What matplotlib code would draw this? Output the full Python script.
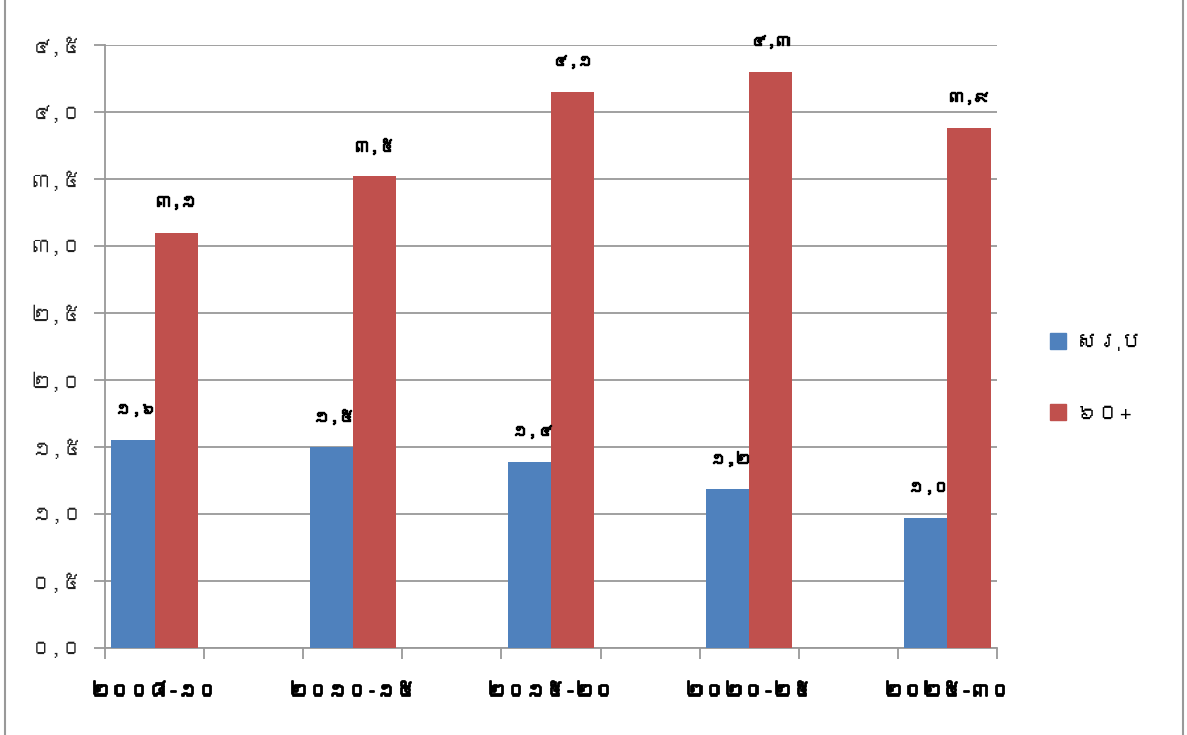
import matplotlib
matplotlib.use("Agg")
import matplotlib.pyplot as plt
import matplotlib.patheffects as pe
from matplotlib import font_manager
from matplotlib.ft2font import FT2Font
from matplotlib.lines import Line2D

# data
categories = ["២០០៨-១០", "២០១០-១៥", "២០១៥-២០", "២០២០-២៥", "២០២៥-៣០"]
total = [1.55, 1.50, 1.39, 1.19, 0.97]
total_labels = ["១,៦", "១,៥", "១,៤", "១,២", "១,០"]
aged = [3.10, 3.52, 4.15, 4.30, 3.88]
aged_labels = ["៣,១", "៣,៥", "៤,១", "៤,៣", "៣,៩"]
series_names = ["សរុប", "៦០+"]
yticks = [0.0, 0.5, 1.0, 1.5, 2.0, 2.5, 3.0, 3.5, 4.0, 4.5]
ytick_labels = ["០,០", "០,៥", "១,០", "១,៥", "២,០", "២,៥", "៣,០", "៣,៥", "៤,០", "៤,៥"]


def find_khmer_font():
    for f in font_manager.fontManager.ttflist:
        try:
            cmap = FT2Font(f.fname).get_charmap()
        except Exception:
            continue
        if 0x17E0 in cmap and 0x179F in cmap:
            return f.name
    return None


kh = find_khmer_font()
families = [kh, "DejaVu Sans"] if kh else ["DejaVu Sans"]
plt.rcParams["font.family"] = families

fig = plt.figure(figsize=(11.87, 7.35), dpi=100)
ax = fig.add_axes([105 / 1187, 1 - 648 / 735, 892 / 1187, 603 / 735])

blue = "#4F81BD"
red = "#C0504D"
w = 0.435
x = [2 * i for i in range(len(categories))]
heavy = [pe.withStroke(linewidth=1.0, foreground="black")]

b1 = ax.bar([p - w / 2 for p in x], total, width=w, color=blue, label=series_names[0], zorder=3)
b2 = ax.bar([p + w / 2 for p in x], aged, width=w, color=red, label=series_names[1], zorder=3)

for rect, lab in zip(b1, total_labels):
    ax.annotate(lab, (rect.get_x() + rect.get_width() / 2, rect.get_height()),
                xytext=(2, 22), textcoords="offset points", ha="center", va="center",
                fontsize=12, path_effects=heavy)
for rect, lab in zip(b2, aged_labels):
    ax.annotate(lab, (rect.get_x() + rect.get_width() / 2, rect.get_height()),
                xytext=(0, 22), textcoords="offset points", ha="center", va="center",
                fontsize=12, path_effects=heavy)

ax.set_xlim(-0.5, 8.5)
ax.set_ylim(0, 4.5)
ax.set_yticks(yticks)
ax.set_yticklabels(ytick_labels, fontsize=15, color="#222222")
ax.yaxis.grid(True, color="#999999", linewidth=1.3, zorder=0)

ax.set_xticks(x)
ax.set_xticklabels(categories, fontsize=14)
for t in ax.get_xticklabels():
    t.set_path_effects([pe.withStroke(linewidth=1.3, foreground="black")])
ax.tick_params(axis="x", length=0, pad=25)
ax.set_xticks([i - 0.5 for i in range(10)], minor=True)
ax.tick_params(axis="x", which="minor", length=8, color="#999999", width=1.3, direction="out")
ax.tick_params(axis="y", length=8, color="#999999", width=1.3, direction="out", pad=8)

for s in ["top", "right"]:
    ax.spines[s].set_visible(False)
for s in ["left", "bottom"]:
    ax.spines[s].set_color("#999999")
    ax.spines[s].set_linewidth(1.3)

handles = [Line2D([], [], marker="s", linestyle="none", markersize=12, color=blue),
           Line2D([], [], marker="s", linestyle="none", markersize=12, color=red)]
fig.legend(handles, series_names, loc="center left", bbox_to_anchor=(1027 / 1187, 1 - 378 / 735),
           frameon=False, fontsize=16, labelspacing=2.4, handletextpad=0.3, handlelength=1.0)

# chart area border
fig.add_artist(Line2D([5 / 1187, 5 / 1187], [0, 1], color="#999999", linewidth=1.5))
fig.add_artist(Line2D([1183 / 1187, 1183 / 1187], [0, 1], color="#999999", linewidth=1.5))

fig.savefig("out.png", dpi=100)
